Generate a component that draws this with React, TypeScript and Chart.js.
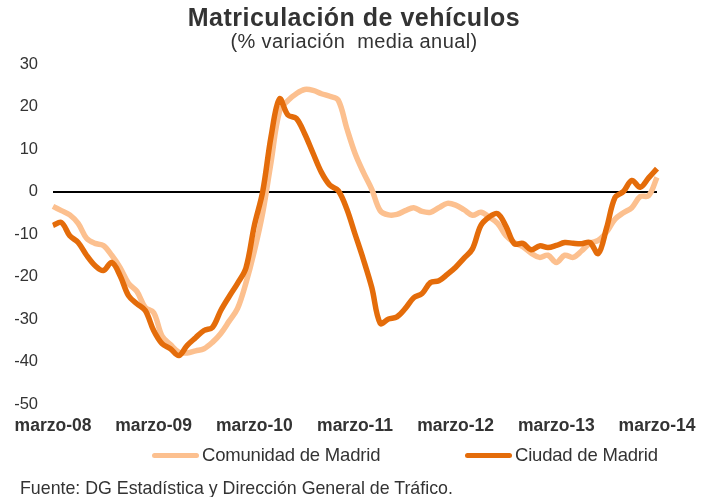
import React, { useEffect, useRef } from "react";
import { Chart, registerables } from "chart.js";

Chart.register(...registerables);

const MONTHS = ["mar", "abr", "may", "jun", "jul", "ago", "sep", "oct", "nov", "dic", "ene", "feb"];
const YEARS = ["08", "09", "10", "11", "12", "13", "14"];

// 73 monthly categories: marzo-08 ... marzo-14
const categories: string[] = [];
for (let y = 0; y < YEARS.length; y++) {
  for (let m = 0; m < 12; m++) {
    if (y === YEARS.length - 1 && m > 0) break;
    const yr = m < 10 ? YEARS[y] : YEARS[y + 1];
    categories.push(`${MONTHS[m]}-${yr}`);
  }
}

const xTickLabels = ["marzo-08", "marzo-09", "marzo-10", "marzo-11", "marzo-12", "marzo-13", "marzo-14"];
const yTicks = [30, 20, 10, 0, -10, -20, -30, -40, -50];

const comunidadMadrid = [
  -3.5, -4.5, -5.5, -7.5, -11, -12.2, -12.7, -15, -17.9, -21.6, -23.5, -27.3,
  -28.5, -34, -36, -37.8, -38, -37.5, -37, -35.5, -33.4, -30.5, -27.5, -21.5,
  -14, -5, 7, 18.8, 21.4, 23, 24, 23.8, 23, 22.4, 21.5, 15,
  9, 4.5, 0.5, -4.5, -5.5, -5.4, -4.5, -3.8, -4.7, -4.9, -3.8, -2.8,
  -3.2, -4.3, -5.6, -4.9, -6, -7.5, -10.4, -12, -13, -14.5, -15.5, -15,
  -16.7, -15, -15.5, -14, -12.2, -11.5, -9.5, -6.5, -5, -3.8, -1.2, -1, 3.3,
];

const ciudadMadrid = [
  -8, -7.3, -10.4, -12, -15, -17.4, -18.6, -16.7, -19.8, -24.5, -26.4, -28,
  -32.7, -35.8, -37, -38.6, -36.2, -34.4, -32.7, -32, -28, -24.7, -21.6, -18,
  -8, 0, 13, 21.8, 18, 17.2, 13.6, 9, 4.5, 1.5, 0.2, -4,
  -10, -16, -22.6, -31, -30, -29.5, -27.5, -25, -24, -21.4, -21, -19.5,
  -17.8, -15.7, -13.5, -8, -6, -5.2, -8.2, -12.3, -12.2, -13.7, -12.8, -13.2,
  -12.7, -12, -12.2, -12.3, -12, -14.6, -8.5, -1.4, 0, 2.6, 1, 3.2, 5.4,
];

const LIGHT = "#FCC08F";
const DARK = "#E46C0A";
const TEXT = "#333333";
const FONT = "'Liberation Sans', Arial, sans-serif";

export default function App() {
  const ref = useRef<HTMLCanvasElement | null>(null);

  useEffect(() => {
    if (!ref.current) return;
    const chart = new Chart(ref.current, {
      type: "line",
      data: {
        labels: categories,
        datasets: [
          {
            label: "Comunidad de Madrid",
            data: comunidadMadrid,
            borderColor: LIGHT,
            backgroundColor: LIGHT,
            borderWidth: 5.5,
            pointRadius: 0,
            tension: 0.35,
            order: 1,
          },
          {
            label: "Ciudad de Madrid",
            data: ciudadMadrid,
            borderColor: DARK,
            backgroundColor: DARK,
            borderWidth: 5.5,
            pointRadius: 0,
            tension: 0.35,
            order: 0,
          },
        ],
      },
      options: {
        animation: false,
        responsive: false,
        maintainAspectRatio: false,
        layout: { padding: { left: 8, right: 51, top: 64, bottom: 63 } },
        plugins: { legend: { display: false }, tooltip: { enabled: false }, title: { display: false } },
        scales: {
          x: {
            type: "category",
            offset: false,
            grid: { display: false },
            border: { display: false },
            ticks: {
              autoSkip: false,
              maxRotation: 0,
              padding: 4,
              color: TEXT,
              font: { family: FONT, size: 17.5, weight: "bold" },
              callback: (_v: any, i: number) => (i % 12 === 0 ? xTickLabels[i / 12] : ""),
            },
            afterFit: (s: any) => {
              s.height = 30;
            },
          },
          y: {
            min: -50,
            max: 30,
            afterBuildTicks: (s: any) => {
              s.ticks = yTicks.map((v) => ({ value: v }));
            },
            grid: {
              drawTicks: false,
              color: (c: any) => (c.tick && c.tick.value === 0 ? "#000000" : "rgba(0,0,0,0)"),
              lineWidth: 2,
            },
            border: { display: false },
            ticks: {
              padding: 15,
              color: TEXT,
              font: { family: FONT, size: 16.5 },
            },
            afterFit: (s: any) => {
              s.width = 45;
            },
          },
        },
      },
    });
    return () => chart.destroy();
  }, []);

  const legendItem = (color: string, label: string, left: number) => (
    <div style={{ position: "absolute", left, top: 444, height: 22, display: "flex", alignItems: "center" }}>
      <div style={{ width: 47, height: 5, background: color, borderRadius: 3, marginRight: 3 }} />
      <span style={{ fontSize: 18.5, color: TEXT, fontFamily: FONT, letterSpacing: -0.2 }}>{label}</span>
    </div>
  );

  return (
    <div style={{ position: "absolute", left: 0, top: 0, width: 708, height: 497, background: "#fff", fontFamily: FONT }}>
      <canvas ref={ref} width={708} height={497} style={{ position: "absolute", left: 0, top: 0 }} />
      <div style={{ position: "absolute", top: 3, left: 0, width: 708, textAlign: "center", fontSize: 25, fontWeight: "bold", color: TEXT, lineHeight: "28px", letterSpacing: 0.5 }}>
        Matriculación de vehículos
      </div>
      <div style={{ position: "absolute", top: 30, left: 0, width: 708, textAlign: "center", fontSize: 20, color: TEXT, lineHeight: "22px", letterSpacing: 0.4 }}>
        (% variación&nbsp; media anual)
      </div>
      {legendItem(LIGHT, "Comunidad de Madrid", 152)}
      {legendItem(DARK, "Ciudad de Madrid", 465)}
      <div style={{ position: "absolute", left: 20, top: 477, fontSize: 17.8, color: TEXT, lineHeight: "22px", letterSpacing: 0 }}>
        Fuente: DG Estadística y Dirección General de Tráfico.
      </div>
    </div>
  );
}
